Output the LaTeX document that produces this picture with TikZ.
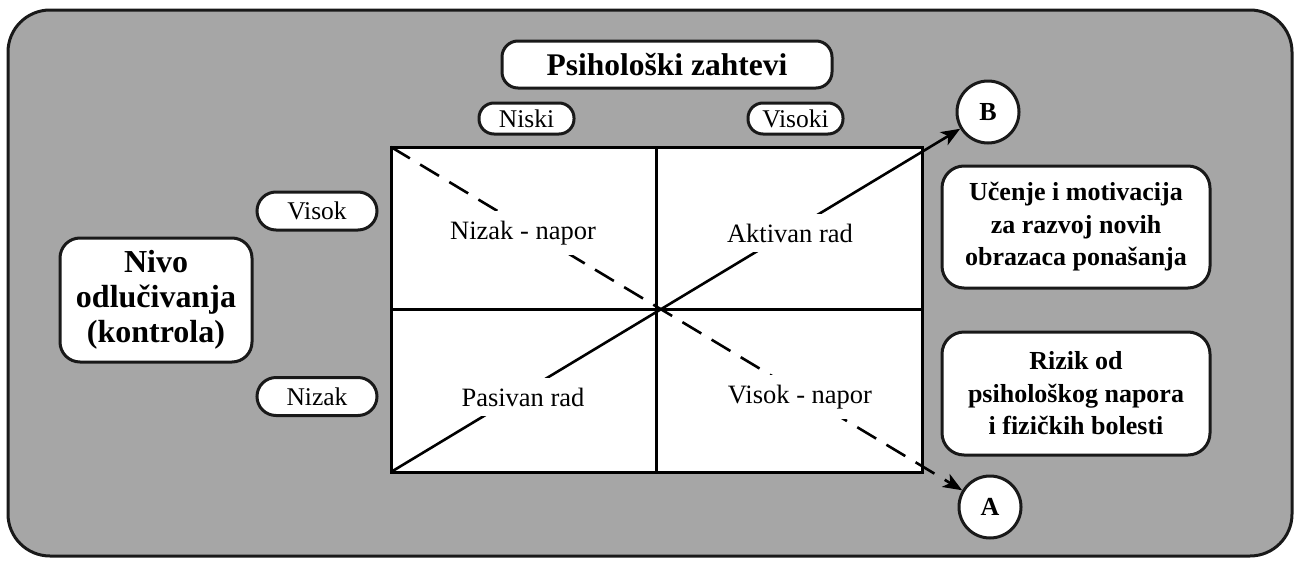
\documentclass[tikz,border=0pt]{standalone}
\usepackage{fontspec}
\setmainfont{Liberation Serif}
\usetikzlibrary{arrows.meta}
\definecolor{bggray}{RGB}{166,166,166}
\definecolor{edge}{RGB}{25,25,25}
\begin{document}
\begin{tikzpicture}[x=1pt,y=-1pt,
  pill/.style={draw=edge,line width=3pt,fill=white,rounded corners=15pt,inner sep=0pt,align=center,font=\fontsize{25.5}{30}\selectfont},
  bigbox/.style={draw=edge,line width=3pt,fill=white,rounded corners=22pt,inner sep=0pt,align=center,font=\bfseries\fontsize{26}{32.5}\selectfont},
  quad/.style={fill=white,inner xsep=6pt,inner ysep=10pt,font=\fontsize{26.5}{30}\selectfont},
  letter/.style={draw=edge,line width=3pt,fill=white,circle,minimum size=62pt,inner sep=0pt,font=\bfseries\fontsize{26}{28}\selectfont},
  gridline/.style={line width=3pt,black},
  diag/.style={line width=2.6pt,black},
  tip/.style={-{Stealth[length=19pt,width=15pt,inset=5pt]}}
]
\useasboundingbox (0,0) rectangle (1295,565);
% outer panel
\draw[draw=edge,line width=3pt,fill=bggray,rounded corners=42pt] (8,10) rectangle (1292,556);

% grid
\coordinate (tl) at (391,147);
\coordinate (br) at (922,472);
\coordinate (bl) at (391,472);
\coordinate (tr) at (922,147);
\coordinate (mt) at (656.5,147);
\coordinate (mb) at (656.5,472);
\coordinate (ml) at (391,309.5);
\coordinate (mr) at (922,309.5);
\fill[white] (tl) rectangle (br);

% circles
\node[letter] (B) at (988,112) {B};
\node[letter] (A) at (990,507) {A};

% diagonals
\draw[diag,tip] (bl) -- (B);
\draw[diag,tip,dash pattern=on 22pt off 12pt] (tl) -- (A);

% quadrant labels
\node[quad] (nn) at (523,233) {Nizak - napor};
\node[quad] (ar) at (790,233) {Aktivan rad};
\node[quad] (pr) at (523,397) {Pasivan rad};
\node[quad] (vn) at (800,397) {Visok - napor};

% grid lines
\draw[gridline] (tl) rectangle (br);
\draw[gridline] (mt) -- (mb);
\draw[gridline] (ml) -- (mr);

% labels
\node[pill,rounded corners=16pt,minimum width=330pt,minimum height=47pt,font=\bfseries\fontsize{31.5}{36}\selectfont] (title) at (667,64.5) {Psihološki zahtevi};
\node[pill,minimum width=95pt,minimum height=31pt] (niski) at (526.5,118.5) {Niski};
\node[pill,minimum width=95pt,minimum height=31pt] (visoki) at (795.5,118.5) {Visoki};
\node[pill,rounded corners=19pt,minimum width=120pt,minimum height=38pt] (visok) at (317,211) {Visok};
\node[pill,rounded corners=19pt,minimum width=120pt,minimum height=38pt] (nizak) at (317,396.5) {Nizak};
\node[bigbox,rounded corners=20pt,minimum width=192pt,minimum height=124pt,font=\bfseries\fontsize{32}{35}\selectfont] (nivo) at (156,300) {Nivo\\odlučivanja\\(kontrola)};
\node[bigbox,minimum width=268pt,minimum height=122pt] (ucenje) at (1076,227) {Učenje i motivacija\\za razvoj novih\\obrazaca ponašanja};
\node[bigbox,minimum width=268pt,minimum height=123pt] (rizik) at (1076,393.5) {Rizik od\\psihološkog napora\\i fizičkih bolesti};
\end{tikzpicture}
\end{document}
